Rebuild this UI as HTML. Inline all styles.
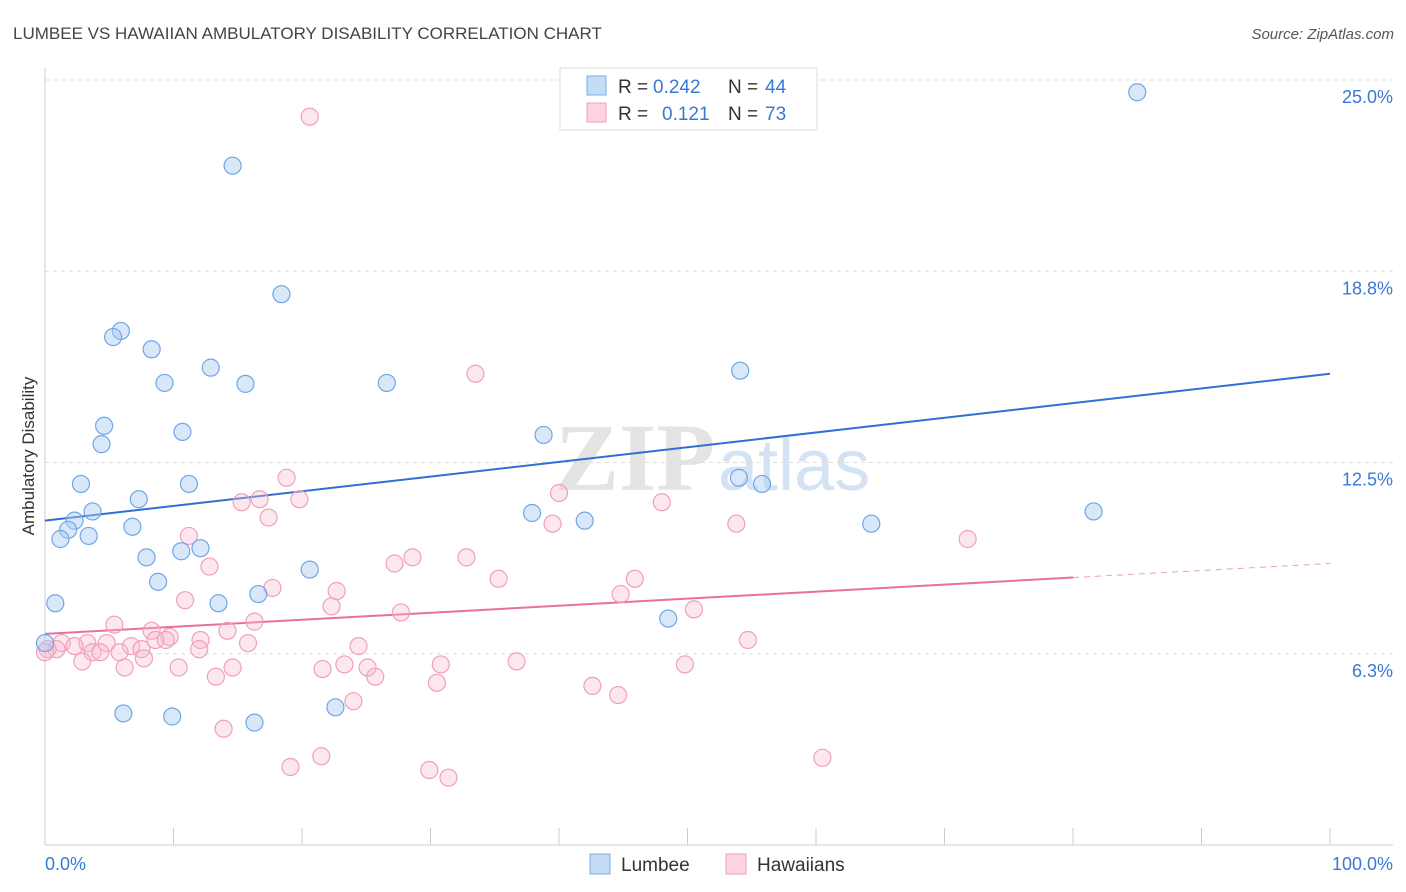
<!DOCTYPE html>
<html><head><meta charset="utf-8"><style>
body{margin:0;background:#fff;font-family:"Liberation Sans",sans-serif;}
svg{display:block}
</style></head><body>
<svg id="chart" width="1406" height="892">
<text x="13" y="39" font-size="17" fill="#444">LUMBEE VS HAWAIIAN AMBULATORY DISABILITY CORRELATION CHART</text>
<text x="1394" y="39" font-size="15" fill="#555" font-style="italic" text-anchor="end">Source: ZipAtlas.com</text>
<text transform="translate(34,456) rotate(-90)" font-size="17" fill="#333" text-anchor="middle">Ambulatory Disability</text>
<g><text x="555" y="490" font-size="96" fill="#e4e4e4" font-family="Liberation Serif,serif" font-weight="bold">ZIP</text><text x="718" y="490" font-size="72" fill="#d4e3f3">atlas</text></g>
<g id="grid"></g><g id="axes"></g><g id="lines"></g><g id="pts"></g>
<g>
<rect x="560" y="68" width="257" height="62" fill="#fff" stroke="#ddd"/>
<rect x="587" y="76" width="19" height="19" fill="#c5dcf5" stroke="#7aaee8"/>
<rect x="587" y="103" width="19" height="19" fill="#fcd3df" stroke="#f0a0b8"/>
<text y="93" font-size="19" fill="#333"><tspan x="618">R =</tspan><tspan x="653" fill="#3a78d8">0.242</tspan><tspan x="728">N =</tspan><tspan x="765" fill="#3a78d8">44</tspan></text>
<text y="120" font-size="19" fill="#333"><tspan x="618">R =</tspan><tspan x="662" fill="#3a78d8">0.121</tspan><tspan x="728">N =</tspan><tspan x="765" fill="#3a78d8">73</tspan></text>
</g>
<g>
<rect x="590" y="854" width="20" height="20" fill="#c5dcf5" stroke="#7aaee8"/>
<text x="621" y="871" font-size="19" fill="#333">Lumbee</text>
<rect x="726" y="854" width="20" height="20" fill="#fcd3df" stroke="#f0a0b8"/>
<text x="757" y="871" font-size="19" fill="#333">Hawaiians</text>
</g>
</svg>
<script>
const yTicks=[25.0,18.8,12.5,6.3];
const yTickValues=[25,18.75,12.5,6.25];
const xTickLabels=["0.0%","100.0%"];
const lumbeeX=[85.0,14.6,18.4,5.9,5.3,8.3,12.9,9.3,15.6,26.6,54.1,4.6,10.7,38.8,4.4,2.8,11.2,54.0,55.8,7.3,3.7,37.9,2.3,1.8,6.8,42.0,64.3,81.6,1.2,3.4,10.6,12.1,7.9,8.8,20.6,16.6,13.5,0.8,48.5,0,6.1,9.9,16.3,22.6];
const lumbeeY=[24.6,22.2,18.0,16.8,16.6,16.2,15.6,15.1,15.07,15.1,15.5,13.7,13.5,13.4,13.1,11.8,11.8,12.0,11.8,11.3,10.9,10.85,10.6,10.3,10.4,10.6,10.5,10.9,10.0,10.1,9.6,9.7,9.4,8.6,9.0,8.2,7.9,7.9,7.4,6.6,4.3,4.2,4.0,4.5];
const hawX=[20.6,33.5,18.8,40.0,15.3,16.7,19.8,48.0,17.4,39.5,53.8,71.8,11.2,28.6,32.8,27.2,12.8,35.3,45.9,17.7,22.7,10.9,44.8,22.3,27.7,50.5,5.4,16.3,8.3,14.2,9.7,8.6,12.1,3.3,1.3,2.3,4.8,6.7,7.5,9.4,15.8,24.4,54.7,0.2,0.9,3.7,4.3,5.8,7.7,12.0,2.9,6.2,10.4,14.6,21.6,23.3,25.1,30.8,36.7,49.8,13.3,25.7,30.5,42.6,44.6,24.0,13.9,19.1,21.5,29.9,31.4,60.5,0];
const hawY=[23.8,15.4,12.0,11.5,11.2,11.3,11.3,11.2,10.7,10.5,10.5,10.0,10.1,9.4,9.4,9.2,9.1,8.7,8.7,8.4,8.3,8.0,8.2,7.8,7.6,7.7,7.2,7.3,7.0,7.0,6.8,6.7,6.7,6.6,6.6,6.5,6.6,6.5,6.4,6.7,6.6,6.5,6.7,6.4,6.4,6.3,6.3,6.3,6.1,6.4,6.0,5.8,5.8,5.8,5.75,5.9,5.8,5.9,6.0,5.9,5.5,5.5,5.3,5.2,4.9,4.7,3.8,2.55,2.9,2.45,2.2,2.85,6.3];
const lumbeeTrend=[10.6,15.4];
const hawTrend=[6.9,9.2];
const hawTrendSolidEnd=80;
const NS="http://www.w3.org/2000/svg";
const X=v=>45+v*12.85, Y=v=>80+(25-v)*30.6;
function mk(t,a,p){const e=document.createElementNS(NS,t);for(const k in a)e.setAttribute(k,a[k]);p.appendChild(e);return e;}
const grid=document.getElementById('grid'),axes=document.getElementById('axes'),lines=document.getElementById('lines'),pts=document.getElementById('pts');
yTickValues.forEach((v,i)=>{
 const g=mk('line',{x1:45,x2:1393,y1:Y(v),y2:Y(v),stroke:'#ddd','stroke-dasharray':'4,4'},grid);
 
 
 const t=mk('text',{x:1393,y:Y(v)+23,'font-size':18,fill:'#3a78d8','text-anchor':'end'},axes);
 t.textContent=yTicks[i].toFixed(1)+'%';
 
 
});
mk('line',{x1:45,x2:45,y1:68,y2:845,stroke:'#ccc'},axes);
mk('line',{x1:45,x2:1393,y1:845,y2:845,stroke:'#ccc'},axes);
for(let i=0;i<=10;i++){const tk=mk('line',{x1:X(i*10),x2:X(i*10),y1:828,y2:845,stroke:'#ccc'},axes);
 
 }
const xl0=mk('text',{x:45,y:870,'font-size':18,fill:'#3a78d8'},axes);xl0.textContent=xTickLabels[0];


const xl1=mk('text',{x:1393,y:870,'font-size':18,fill:'#3a78d8','text-anchor':'end'},axes);xl1.textContent=xTickLabels[1];


const bl=mk('line',{x1:X(0),y1:Y(lumbeeTrend[0]),x2:X(100),y2:Y(lumbeeTrend[1]),stroke:'#2f6fd6','stroke-width':2},lines);


const hy=x=>hawTrend[0]+(hawTrend[1]-hawTrend[0])*x/100;
const pl=mk('line',{x1:X(0),y1:Y(hy(0)),x2:X(hawTrendSolidEnd),y2:Y(hy(hawTrendSolidEnd)),stroke:'#e8709a','stroke-width':2},lines);


const pd=mk('line',{x1:X(hawTrendSolidEnd),y1:Y(hy(hawTrendSolidEnd)),x2:X(100),y2:Y(hy(100)),stroke:'#e8a0b8','stroke-width':1,'stroke-dasharray':'6,5'},lines);


hawX.forEach((x,i)=>{const c=mk('circle',{cx:X(x),cy:Y(hawY[i]),r:8.5,fill:'rgba(248,185,205,0.35)',stroke:'#f0a0b8','stroke-width':1.2},pts);
 
 });
lumbeeX.forEach((x,i)=>{const c=mk('circle',{cx:X(x),cy:Y(lumbeeY[i]),r:8.5,fill:'rgba(170,205,242,0.45)',stroke:'#6fa6e6','stroke-width':1.2},pts);
 
 });
</script>
</body></html>
